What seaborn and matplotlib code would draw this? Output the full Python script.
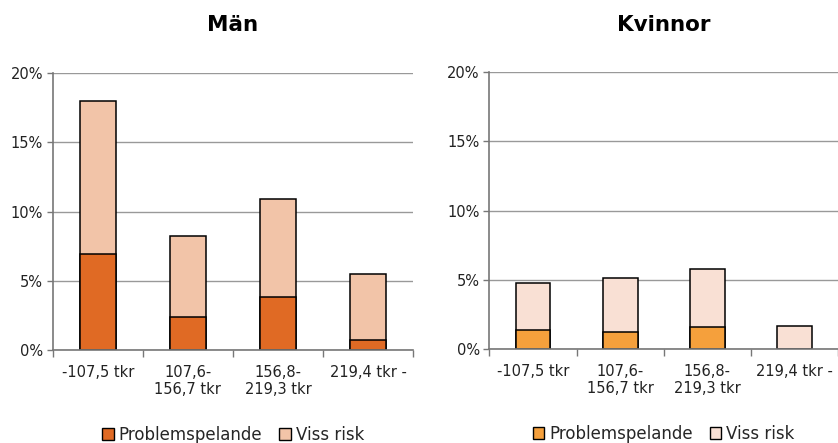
import numpy as np
import pandas as pd
import matplotlib
matplotlib.use("Agg")
import matplotlib.pyplot as plt
import seaborn as sns
from matplotlib.patches import Patch
from matplotlib.ticker import FuncFormatter

categories = ["-107,5 tkr", "107,6-\n156,7 tkr", "156,8-\n219,3 tkr", "219,4 tkr -"]
man_problem = [6.9, 2.4, 3.8, 0.7]
man_risk = [11.1, 5.8, 7.1, 4.8]
kvinnor_problem = [1.4, 1.25, 1.6, 0.0]
kvinnor_risk = [3.4, 3.85, 4.15, 1.7]

sns.set_theme(style="white")
plt.rcParams["font.family"] = ["DejaVu Sans"]

fig = plt.figure(figsize=(8.38, 4.43), dpi=100)
ax1 = fig.add_axes([0.063, 0.210, 0.430, 0.625])
ax2 = fig.add_axes([0.584, 0.212, 0.416, 0.625])


def draw(ax, problem, risk, dark, light, title):
    df = pd.DataFrame({"kat": categories, "problem": problem,
                       "total": np.array(problem) + np.array(risk)})
    sns.barplot(data=df, x="kat", y="total", color=light, width=0.4,
                edgecolor="black", linewidth=1.1, saturation=1, ax=ax)
    sns.barplot(data=df[df["problem"] > 0], x="kat", y="problem", color=dark, width=0.4,
                edgecolor="black", linewidth=1.1, saturation=1, ax=ax,
                order=categories)
    ax.set_xlim(-0.5, 3.5)
    ax.set_ylim(0, 20)
    ax.set_yticks([0, 5, 10, 15, 20])
    ax.yaxis.set_major_formatter(FuncFormatter(lambda v, p: f"{v:.0f}%"))
    ax.yaxis.grid(True, color="#999999", linewidth=1)
    ax.set_axisbelow(True)
    ax.set_xlabel("")
    ax.set_ylabel("")
    ax.set_xticks([-0.5, 0.5, 1.5, 2.5, 3.5])
    ax.set_xticklabels([])
    ax.set_xticks([0, 1, 2, 3], minor=True)
    ax.set_xticklabels(categories, minor=True, fontsize=10.5, color="#222222",
                       linespacing=1.15)
    ax.tick_params(axis="x", which="major", length=5, width=1, color="#777777",
                   direction="out", bottom=True)
    ax.tick_params(axis="x", which="minor", length=0, pad=11)
    ax.tick_params(axis="y", length=4, width=1, color="#777777", direction="out",
                   left=True, labelsize=10.5, labelcolor="#222222", pad=3)
    for s in ["top", "right"]:
        ax.spines[s].set_visible(False)
    for s in ["left", "bottom"]:
        ax.spines[s].set_color("#777777")
        ax.spines[s].set_linewidth(1.2)
    ax.set_title(title, fontsize=15.5, fontweight="bold", color="black", pad=30)
    handles = [Patch(facecolor=dark, edgecolor="black", label="Problemspelande"),
               Patch(facecolor=light, edgecolor="black", label="Viss risk")]
    ax.legend(handles=handles, loc="upper center", bbox_to_anchor=(0.5, -0.22),
              ncol=2, frameon=False, fontsize=12, handlelength=0.7,
              handleheight=0.7, handletextpad=0.3, columnspacing=1.0)


draw(ax1, man_problem, man_risk, "#E06A24", "#F2C4A8", "Män")
draw(ax2, kvinnor_problem, kvinnor_risk, "#F5A03C", "#F9E0D4", "Kvinnor")

fig.savefig("out.png", dpi=100)
